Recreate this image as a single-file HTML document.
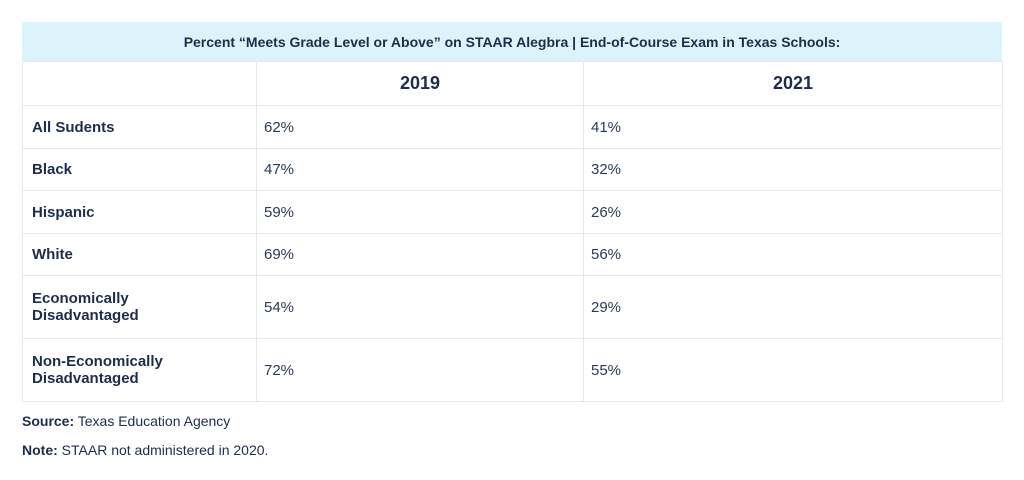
<!DOCTYPE html>
<html><head><meta charset="utf-8"><style>
body{margin:0;width:1024px;height:480px;background:#fff;font-family:"Liberation Sans",sans-serif;color:#1e2d4a;position:relative;overflow:hidden}
.c{position:absolute;box-sizing:border-box;border:1px solid #e6e9ec;display:flex;align-items:center;font-size:15px}
.h{background:#dcf3fc;justify-content:center;font-weight:bold;font-size:14px;border-color:#dcf3fc}
.b{font-weight:bold;padding-left:9px}
.v{padding-left:7px;color:#2a3a55}
.y{justify-content:center;font-weight:bold;font-size:18px}
.n{position:absolute;left:22px;font-size:14px}
</style></head><body>
<div class="c h" style="left:22px;top:22px;width:980px;height:40px">Percent “Meets Grade Level or Above” on STAAR Alegbra | End-of-Course Exam in Texas Schools:</div>
<div id="t"></div>
<div class="n" style="top:413px"><b>Source:</b> Texas Education Agency</div>
<div class="n" style="top:442px"><b>Note:</b> STAAR not administered in 2020.</div>
<script>
const years=["2019","2021"];
const groups=["All Sudents","Black","Hispanic","White","Economically<br>Disadvantaged","Non-Economically<br>Disadvantaged"];
const v2019=[62,47,59,69,54,72];
const v2021=[41,32,26,56,29,55];
const t=document.getElementById('t');
const xs=[22,256,583,1002];
const ys=[61,105,148,190,233,275,338,401];
function cell(cls,x0,x1,y0,y1,html,name){
 const d=document.createElement('div');d.className='c '+cls;
 d.style.cssText=`left:${x0}px;top:${y0}px;width:${x1-x0+1}px;height:${y1-y0+1}px`;
 d.innerHTML=html;
 
 
 t.appendChild(d);
}
cell('',xs[0],xs[1],ys[0],ys[1],'','corner-cell');
years.forEach((y,i)=>cell('y',xs[i+1],xs[i+2],ys[0],ys[1],y,'year-header-'+y));
groups.forEach((g,r)=>{
 cell('b',xs[0],xs[1],ys[r+1],ys[r+2],g,'row-label');
 cell('v',xs[1],xs[2],ys[r+1],ys[r+2],v2019[r]+'%','value-2019');
 cell('v',xs[2],xs[3],ys[r+1],ys[r+2],v2021[r]+'%','value-2021');
});
</script>
</body></html>
